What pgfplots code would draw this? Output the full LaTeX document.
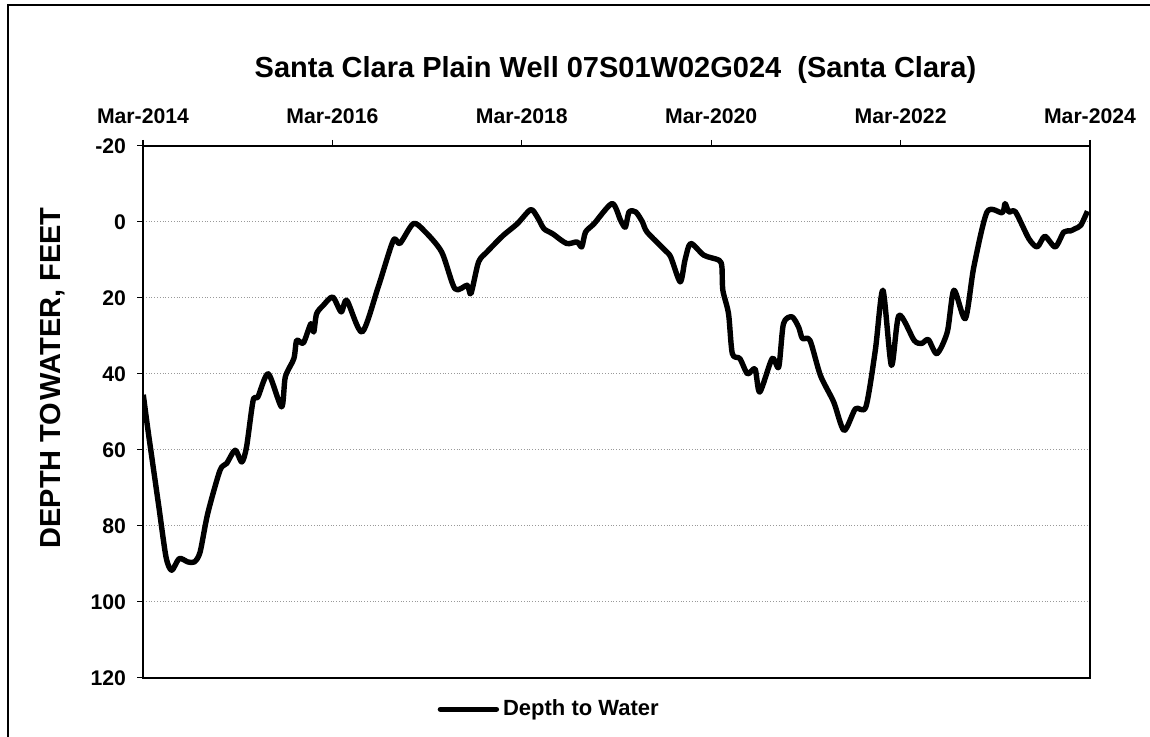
\documentclass[border=0pt]{standalone}
\usepackage{fontspec}
\setmainfont{Liberation Sans}
\usepackage{pgfplots}
\pgfplotsset{compat=1.18}

\pgfplotstableread{
yr       depth
2014.17  45.5
2014.22  54.9
2014.33  74.2
2014.41  88.2
2014.47  91.7
2014.55  88.6
2014.64  89.5
2014.71  89.5
2014.77  86.9
2014.85  76.8
2014.98  65.4
2015.05  63.6
2015.14  60.1
2015.21  63.2
2015.26  59.3
2015.33  47.0
2015.38  46.1
2015.49  40.0
2015.63  48.7
2015.67  40.8
2015.76  36.0
2015.79  31.2
2015.86  31.9
2015.94  26.8
2015.97  29.0
2016.00  24.2
2016.07  22.0
2016.17  19.8
2016.26  23.7
2016.32  20.7
2016.48  29.0
2016.65  17.2
2016.81  4.9
2016.88  5.7
2017.02  0.5
2017.13  2.2
2017.32  7.9
2017.46  17.6
2017.59  16.7
2017.63  18.9
2017.71  10.6
2017.80  7.9
2017.97  3.6
2018.12  0.5
2018.26  -3.2
2018.33  -1.3
2018.40  1.8
2018.49  3.1
2018.64  5.7
2018.75  5.3
2018.80  6.6
2018.84  2.7
2018.93  0.5
2019.12  -4.8
2019.21  -0.4
2019.26  1.4
2019.30  -2.6
2019.37  -2.6
2019.44  0.0
2019.49  2.7
2019.68  7.5
2019.74  9.3
2019.84  15.8
2019.89  10.1
2019.95  5.7
2020.09  8.8
2020.25  10.1
2020.28  11.9
2020.29  18.0
2020.35  24.2
2020.39  34.7
2020.47  36.0
2020.55  40.0
2020.63  38.7
2020.68  44.8
2020.81  36.0
2020.88  38.2
2020.93  26.8
2021.02  25.0
2021.09  27.7
2021.13  30.7
2021.21  31.2
2021.32  40.4
2021.46  47.4
2021.57  54.9
2021.69  49.2
2021.80  48.7
2021.90  33.8
2021.98  18.0
2022.07  37.8
2022.15  24.6
2022.31  31.2
2022.39  32.0
2022.46  31.0
2022.55  34.7
2022.66  29.0
2022.73  18.0
2022.85  25.5
2022.94  11.9
2023.08  -2.6
2023.24  -2.4
2023.27  -4.8
2023.31  -2.6
2023.38  -2.6
2023.52  4.4
2023.61  6.6
2023.69  3.8
2023.80  6.6
2023.89  2.7
2023.96  2.4
2024.01  1.8
2024.07  0.9
2024.14  -2.8
}\welldata

\begin{document}
\begin{tikzpicture}
% outer frame (only left and top edges are visible)
\begin{scope}
\clip (0pt,0pt) rectangle (575pt,368pt);
\draw[line width=1pt] (4pt,-10pt) -- (4pt,365.5pt) -- (585pt,365.5pt);
\end{scope}

\begin{axis}[
  at={(308.25pt,162.1pt)}, anchor=center,
  scale only axis,
  width=473.5pt, height=266pt,
  xmin=2014.167, xmax=2024.167,
  ymin=-20, ymax=120,
  y dir=reverse,
  xtick={2014.167,2016.167,2018.167,2020.167,2022.167,2024.167},
  xticklabels={Mar-2014,Mar-2016,Mar-2018,Mar-2020,Mar-2022,Mar-2024},
  xtick pos=upper, xticklabel pos=upper,
  ytick={-20,0,...,120},
  ytick pos=left,
  tick align=outside,
  major tick length=3pt,
  tick style={line width=0.6pt, black},
  ymajorgrids,
  grid style={densely dotted, gray!80, line width=0.5pt},
  axis line style={line width=1pt},
  /pgf/number format/assume math mode=true,
  ticklabel style={font=\bfseries\fontsize{10.6}{12}\selectfont},
  yticklabel style={xshift=-2pt},
  xticklabel style={yshift=4.5pt},
  legend style={at={(0.43,-0.059)}, anchor=center,
    draw=none, fill=none, font=\bfseries\fontsize{11}{13}\selectfont,
    inner sep=0pt},
  legend image code/.code={\draw[#1, line cap=round] (0pt,0pt) -- (28pt,0pt);},
]
\addplot[black, line width=2.7pt, smooth, tension=0.45, line join=round] table[x=yr, y=depth] {\welldata};
\addlegendentry{Depth to Water}
\end{axis}

\node[font=\bfseries\fontsize{14.5}{17}\selectfont] at (307.75pt,333pt) {Santa Clara Plain Well 07S01W02G024 \ (Santa Clara)};
\node[font=\bfseries\fontsize{14.5}{17}\selectfont, rotate=90] at (26.5pt,179pt) {DEPTH TO\hspace{0.08em}WATER, FEET};

\pgfresetboundingbox
\useasboundingbox (0pt,0pt) rectangle (575pt,368pt);
\end{tikzpicture}
\end{document}
